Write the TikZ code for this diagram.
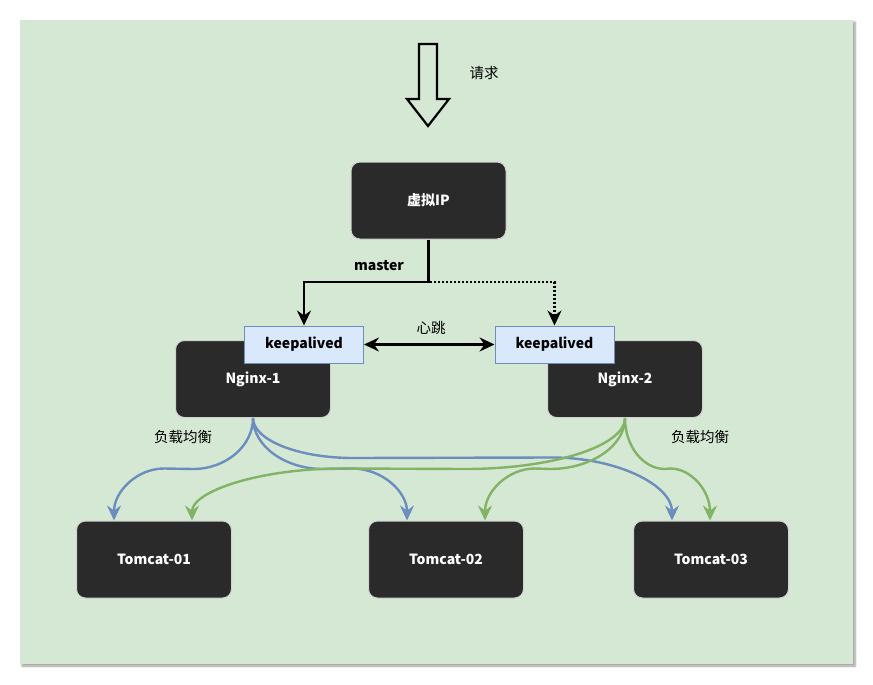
\documentclass[tikz,border=0pt]{standalone}
\usepackage{fontspec}
\setmainfont{Noto Sans CJK SC}
\usepackage{tikz}
\usetikzlibrary{positioning, arrows.meta, calc, shadows.blur}

\definecolor{panelfill}{HTML}{D5E8D4}
\definecolor{boxfill}{HTML}{2A2A2A}
\definecolor{kafill}{HTML}{DAE8FC}
\definecolor{kaborder}{HTML}{6C8EBF}
\definecolor{lbblue}{HTML}{6C8EBF}
\definecolor{lbgreen}{HTML}{82B366}

\begin{document}
\begin{tikzpicture}[x=1pt, y=-1pt, >={Stealth[length=15pt, width=14pt, inset=5pt]},
    darkbox/.style={draw=gray!35, line width=1pt, fill=boxfill, rounded corners=9pt,
        minimum width=155pt, minimum height=77pt, text=white,
        font=\fontsize{14}{16}\selectfont\bfseries},
    kabox/.style={draw=kaborder, line width=1pt, fill=kafill, inner sep=0pt,
        minimum width=119pt, minimum height=37pt,
        font=\fontsize{14}{16}\selectfont\bfseries},
    lbl/.style={font=\fontsize{14.5}{16}\selectfont},
    link/.style={line width=2.4pt},
    lbedge/.style={link, ->}]

    \useasboundingbox (0,0) rectangle (873,685);

    % --- Panel ---
    \fill[panelfill, blur shadow={shadow xshift=2pt, shadow yshift=-2pt, shadow blur steps=8}]
        (20,20) rectangle (853,664);

    % --- Request arrow ---
    \draw[line width=2.2pt, line join=miter]
        (419,44) -- (437,44) -- (437,99) -- (449,99) -- (428,126) -- (407,99) -- (419,99) -- cycle;
    \node[lbl] (req) at (484,73) {请求};

    % --- Nodes ---
    \node[darkbox] (vip) at (428.5,200.5) {虚拟IP};
    \node[darkbox] (ngx1) at (253,379) {Nginx-1};
    \node[darkbox] (ngx2) at (625,379) {Nginx-2};
    \node[kabox] (ka1) at (304,344.5) {keepalived};
    \node[kabox] (ka2) at (554.5,344.5) {keepalived};
    \node[darkbox] (tc1) at (154,559.5) {Tomcat-01};
    \node[darkbox] (tc2) at (446,559.5) {Tomcat-02};
    \node[darkbox] (tc3) at (711,559.5) {Tomcat-03};

    % --- VIP to keepalived ---
    \coordinate (split) at (428.5,282);
    \draw[link, ->, dash pattern=on 2pt off 2pt] (vip.south) -- (split) -| (ka2.north);
    \draw[link, ->] (vip.south) -- (split) -| (ka1.north);
    \node[font=\fontsize{14}{16}\selectfont\bfseries] (master) at (379,266) {master};

    % --- Heartbeat ---
    \draw[link, <->] (ka1.east) -- (ka2.west);
    \node[lbl] (beat) at (431,328) {心跳};

    % --- Load balancing, Nginx-1 (blue) ---
    \draw[lbedge, draw=lbblue] (ngx1.south) .. controls +(0,28) and +(33,0) .. ++(-60,51)
        -- ([xshift=10pt, yshift=52pt]tc1.north) .. controls +(-27,0) and +(0,-29) .. ([xshift=-40pt]tc1.north);
    \draw[lbedge, draw=lbblue] (ngx1.south) .. controls +(0,28) and +(-38,0) .. ++(70,51)
        -- ([xshift=-94pt, yshift=52pt]tc2.north) .. controls +(30,0) and +(0,-29) .. ([xshift=-39pt]tc2.north);
    \draw[lbedge, draw=lbblue] (ngx1.south) .. controls +(0,22) and +(-55,0) .. ++(100,40)
        -- ([xshift=-159pt, yshift=63pt]tc3.north) .. controls +(66,0) and +(0,-35) .. ([xshift=-39pt]tc3.north);

    % --- Load balancing, Nginx-2 (green) ---
    \draw[lbedge, draw=lbgreen] (ngx2.south) .. controls +(0,28) and +(88,0) .. ++(-160,51)
        -- ([xshift=188pt, yshift=52pt]tc1.north) .. controls +(-83,0) and +(0,-29) .. ([xshift=38pt]tc1.north);
    \draw[lbedge, draw=lbgreen] (ngx2.south) .. controls +(0,28) and +(41,0) .. ++(-75,51)
        -- ([xshift=89pt, yshift=52pt]tc2.north) .. controls +(-27,0) and +(0,-29) .. ([xshift=39pt]tc2.north);
    \draw[lbedge, draw=lbgreen] (ngx2.south) .. controls +(0,28) and +(-22,0) .. ++(40,51)
        -- ([xshift=-41pt, yshift=52pt]tc3.north) .. controls +(22,0) and +(0,-29) .. ([xshift=-1pt]tc3.north);

    \node[lbl] (lb1) at (183,437) {负载均衡};
    \node[lbl] (lb2) at (700,437) {负载均衡};
\end{tikzpicture}
\end{document}
